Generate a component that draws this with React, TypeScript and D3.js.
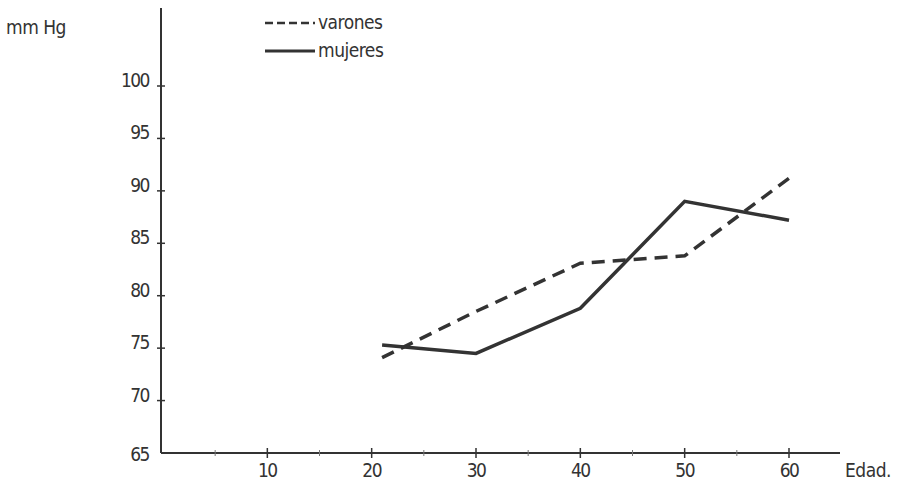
import React, { useEffect, useRef } from 'react';
import * as d3 from 'd3';

const ages = [21, 30, 40, 50, 60];
const varones = [74.1, 78.5, 83.1, 83.8, 91.2];
const mujeres = [75.3, 74.5, 78.8, 89.0, 87.2];
const yTicks = [65, 70, 75, 80, 85, 90, 95, 100];
const xTicks = [10, 20, 30, 40, 50, 60];
const xMinor = [5, 15, 25, 35, 45, 55];

const INK = '#333';
const FONT = '"DejaVu Sans Condensed", "Liberation Sans Narrow", "DejaVu Sans", sans-serif';

export default function App() {
  const svgRef = useRef<SVGSVGElement>(null);

  useEffect(() => {
    if (!svgRef.current) return;
    const width = 902;
    const height = 483;

    const x = d3.scaleLinear().domain([0, 60]).range([163, 789]);
    const y = d3.scaleLinear().domain([65, 100]).range([453, 86]);

    const svg = d3.select(svgRef.current);
    svg.selectAll('*').remove();

    svg.append('rect').attr('width', width).attr('height', height).attr('fill', '#fff');

    // axes
    svg.append('line')
      .attr('x1', 161).attr('x2', 161).attr('y1', 8).attr('y2', 453)
      .attr('stroke', INK).attr('stroke-width', 2);
    svg.append('line')
      .attr('x1', 161).attr('x2', 840).attr('y1', 453).attr('y2', 453)
      .attr('stroke', INK).attr('stroke-width', 2);

    const label = (sel: any, size = 19, ls = -1.5) =>
      sel.style('font-family', FONT)
        .style('font-size', size + 'px')
        .style('letter-spacing', ls + 'px')
        .style('fill', INK);

    // y ticks + labels
    const yg = svg.append('g');
    yg.selectAll('line')
      .data(yTicks.filter(d => d > 65))
      .enter().append('line')
      .attr('x1', 157).attr('x2', 165)
      .attr('y1', d => y(d)).attr('y2', d => y(d))
      .attr('stroke', INK).attr('stroke-width', 1.5);
    yg.selectAll('text')
      .data(yTicks)
      .enter().append('text')
      .attr('x', 149)
      .attr('y', d => (d === 65 ? y(d) + 8 : y(d) + 1))
      .attr('text-anchor', 'end')
      .call(label)
      .text(d => d.toString());

    // x ticks + labels
    const xg = svg.append('g');
    xg.selectAll('line.major')
      .data(xTicks)
      .enter().append('line')
      .attr('class', 'major')
      .attr('x1', d => x(d)).attr('x2', d => x(d))
      .attr('y1', 448).attr('y2', 458)
      .attr('stroke', INK).attr('stroke-width', 1.5);
    xg.selectAll('line.minor')
      .data(xMinor)
      .enter().append('line')
      .attr('class', 'minor')
      .attr('x1', d => x(d)).attr('x2', d => x(d))
      .attr('y1', 450).attr('y2', 456)
      .attr('stroke', '#777').attr('stroke-width', 1);
    xg.selectAll('text')
      .data(xTicks)
      .enter().append('text')
      .attr('x', d => x(d))
      .attr('y', 477)
      .attr('text-anchor', 'middle')
      .call(label)
      .text(d => d.toString());

    svg.append('text')
      .attr('x', 845).attr('y', 477)
      .call(label, 19, -0.5)
      .text('Edad.');

    svg.append('text')
      .attr('x', 6).attr('y', 34)
      .call(label, 19, -0.5)
      .text('mm  Hg');

    // lines
    const line = d3.line<[number, number]>()
      .x(d => x(d[0]))
      .y(d => y(d[1]));

    svg.append('path')
      .datum(ages.map((a, i) => [a, varones[i]] as [number, number]))
      .attr('d', line)
      .attr('fill', 'none')
      .attr('stroke', INK)
      .attr('stroke-width', 3.5)
      .attr('stroke-dasharray', '13,8');

    svg.append('path')
      .datum(ages.map((a, i) => [a, mujeres[i]] as [number, number]))
      .attr('d', line)
      .attr('fill', 'none')
      .attr('stroke', INK)
      .attr('stroke-width', 3.5);

    // legend
    const lg = svg.append('g');
    lg.append('line')
      .attr('x1', 265).attr('x2', 315).attr('y1', 23).attr('y2', 23)
      .attr('stroke', INK).attr('stroke-width', 2.5).attr('stroke-dasharray', '8,4');
    lg.append('line')
      .attr('x1', 265).attr('x2', 315).attr('y1', 51).attr('y2', 51)
      .attr('stroke', INK).attr('stroke-width', 3);
    lg.append('text')
      .attr('x', 318).attr('y', 29)
      .call(label, 19, -0.5)
      .text('varones');
    lg.append('text')
      .attr('x', 318).attr('y', 57)
      .call(label, 19, -0.5)
      .text('mujeres');
  }, []);

  return (
    <div style={{ position: 'fixed', top: 0, left: 0, width: 902, height: 483, background: '#fff' }}>
      <svg ref={svgRef} width={902} height={483}></svg>
    </div>
  );
}
